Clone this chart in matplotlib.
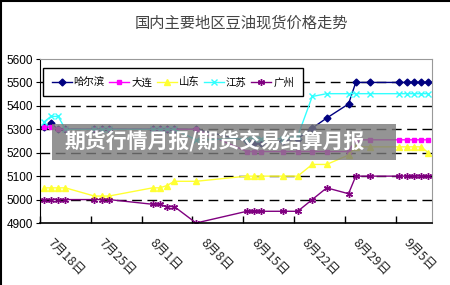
import matplotlib
matplotlib.use('Agg')
import matplotlib.pyplot as plt
import matplotlib.dates as mdates
import matplotlib.transforms as mtransforms
import numpy as np
import pandas as pd

plt.rcParams['font.family'] = ['Noto Sans CJK SC', 'DejaVu Sans']

# data
dates = ['2008-07-18', '2008-07-19', '2008-07-20', '2008-07-21', '2008-07-25', '2008-07-26',
         '2008-07-27', '2008-08-02', '2008-08-03', '2008-08-04', '2008-08-05', '2008-08-08',
         '2008-08-15', '2008-08-16', '2008-08-17', '2008-08-20', '2008-08-22', '2008-08-24',
         '2008-08-26', '2008-08-29', '2008-08-30', '2008-09-01', '2008-09-05', '2008-09-06',
         '2008-09-07', '2008-09-08', '2008-09-09']
harbin =    [5310, 5325, 5300, 5300, 5300, 5300, 5300, 5300, 5300, 5300, 5300, 5300, 5250, 5240,
             5240, 5250, 5260, 5305, 5348, 5408, 5500, 5500, 5500, 5500, 5500, 5500, 5500]
dalian =    [5310, 5310, 5300, 5300, 5300, 5300, 5300, 5300, 5300, 5300, 5300, 5300, 5205, 5205,
             5205, 5205, 5205, 5205, 5205, 5205, 5255, 5255, 5255, 5255, 5255, 5255, 5255]
shandong =  [5050, 5050, 5050, 5050, 5015, 5015, 5015, 5050, 5050, 5060, 5078, 5078, 5100, 5100,
             5100, 5100, 5100, 5150, 5150, 5190, 5225, 5225, 5225, 5225, 5225, 5225, 5200]
jiangsu =   [5330, 5355, 5355, 5300, 5300, 5300, 5300, 5300, 5300, 5300, 5300, 5255, 5260, 5260,
             5260, 5260, 5270, 5440, 5452, 5452, 5452, 5452, 5452, 5452, 5452, 5452, 5452]
guangzhou = [5000, 5000, 5000, 5000, 5000, 5000, 5000, 4980, 4980, 4970, 4970, 4900, 4950, 4950,
             4950, 4950, 4950, 5000, 5050, 5025, 5100, 5100, 5100, 5100, 5100, 5100, 5100]

names = ['哈尔滨', '大连', '山东', '江苏', '广州']
tick_dates = ['2008-07-18', '2008-07-25', '2008-08-01', '2008-08-08',
              '2008-08-15', '2008-08-22', '2008-08-29', '2008-09-05']
tick_labels = ['7月18日', '7月25日', '8月1日', '8月8日', '8月15日', '8月22日', '8月29日', '9月5日']

# each day sits in the middle of its slot
x = mdates.date2num(pd.to_datetime(dates)) + 0.5
xt = mdates.date2num(pd.to_datetime(tick_dates))

fig = plt.figure(figsize=(4.5, 2.85), dpi=100)
ax = fig.add_axes([40/450, 1-223/285, 392/450, 164/285])

ax.plot(x, harbin, color='#000080', marker='D', markersize=3.5, linewidth=1, label=names[0])
ax.plot(x, dalian, color='#FF00FF', marker='s', markersize=3.5, linewidth=1, label=names[1])
ax.plot(x, shandong, color='#FFFF33', marker='^', markersize=4, linewidth=1, label=names[2])
ax.plot(x, jiangsu, color='#33FFFF', marker='x', markersize=4, linewidth=1, label=names[3])
ax.plot(x, guangzhou, color='#800080', marker=(6, 2, 0), markersize=5, linewidth=1, label=names[4])

ax.set_xlim(xt[0], xt[0] + 54)
ax.set_ylim(4900, 5600)
ax.set_yticks(np.arange(4900, 5601, 100))
for v in np.arange(5000, 5600, 100):
    ax.axhline(v, color='black', linewidth=1, linestyle=(0, (7, 4)), zorder=0)

# rotated date labels, shifted down-right of their tick like the original
ax.set_xticks(xt)
ax.set_xticklabels([])
trans = mtransforms.blended_transform_factory(ax.transData, ax.transAxes)
off = mtransforms.ScaledTranslation(0.10, -0.18, fig.dpi_scale_trans)
for t, lab in zip(xt, tick_labels):
    ax.text(t, 0, lab, transform=trans + off, rotation=-45, ha='left', va='center',
            rotation_mode='anchor', fontsize=9, color='#222222', clip_on=False)

ax.tick_params(axis='x', direction='in', length=5, width=1)
ax.tick_params(axis='y', direction='out', length=3, pad=2, labelsize=8.5)
for lab in ax.get_yticklabels():
    lab.set_family(['Liberation Sans'])

ax.spines['left'].set_color('black')
ax.spines['bottom'].set_color('black')
ax.spines['bottom'].set_linewidth(1.2)
ax.spines['top'].set_color('#999999')
ax.spines['right'].set_color('#999999')

leg = ax.legend(ncol=5, loc='upper left', bbox_to_anchor=(-0.006, 0.975), fontsize=7.5,
                handlelength=1.9, columnspacing=0.45, handletextpad=0.2, borderpad=0.85,
                fancybox=False, framealpha=1, edgecolor='black')
leg.get_frame().set_linewidth(1)

fig.text(241/450, 1-23/285, '国内主要地区豆油现货价格走势', ha='center', va='center',
         fontsize=11, color='#444444')

# watermark banner
fig.patches.append(plt.Rectangle((52/450, 1-160/285), 344/450, 36/285, transform=fig.transFigure,
                                 facecolor='#7a7a7a', alpha=0.8, edgecolor='none', zorder=5))
fig.text(215/450, 1-142/285, '期货行情月报/期货交易结算月报', ha='center', va='center',
         fontsize=15, fontweight='bold', color='white', zorder=6)

# outer frame lines
fig.add_artist(plt.Line2D([0.002, 0.002], [0, 1], color='black', linewidth=1.5))
fig.add_artist(plt.Line2D([0, 1], [0.997, 0.997], color='black', linewidth=1.5))

plt.savefig('out.png', dpi=100)
